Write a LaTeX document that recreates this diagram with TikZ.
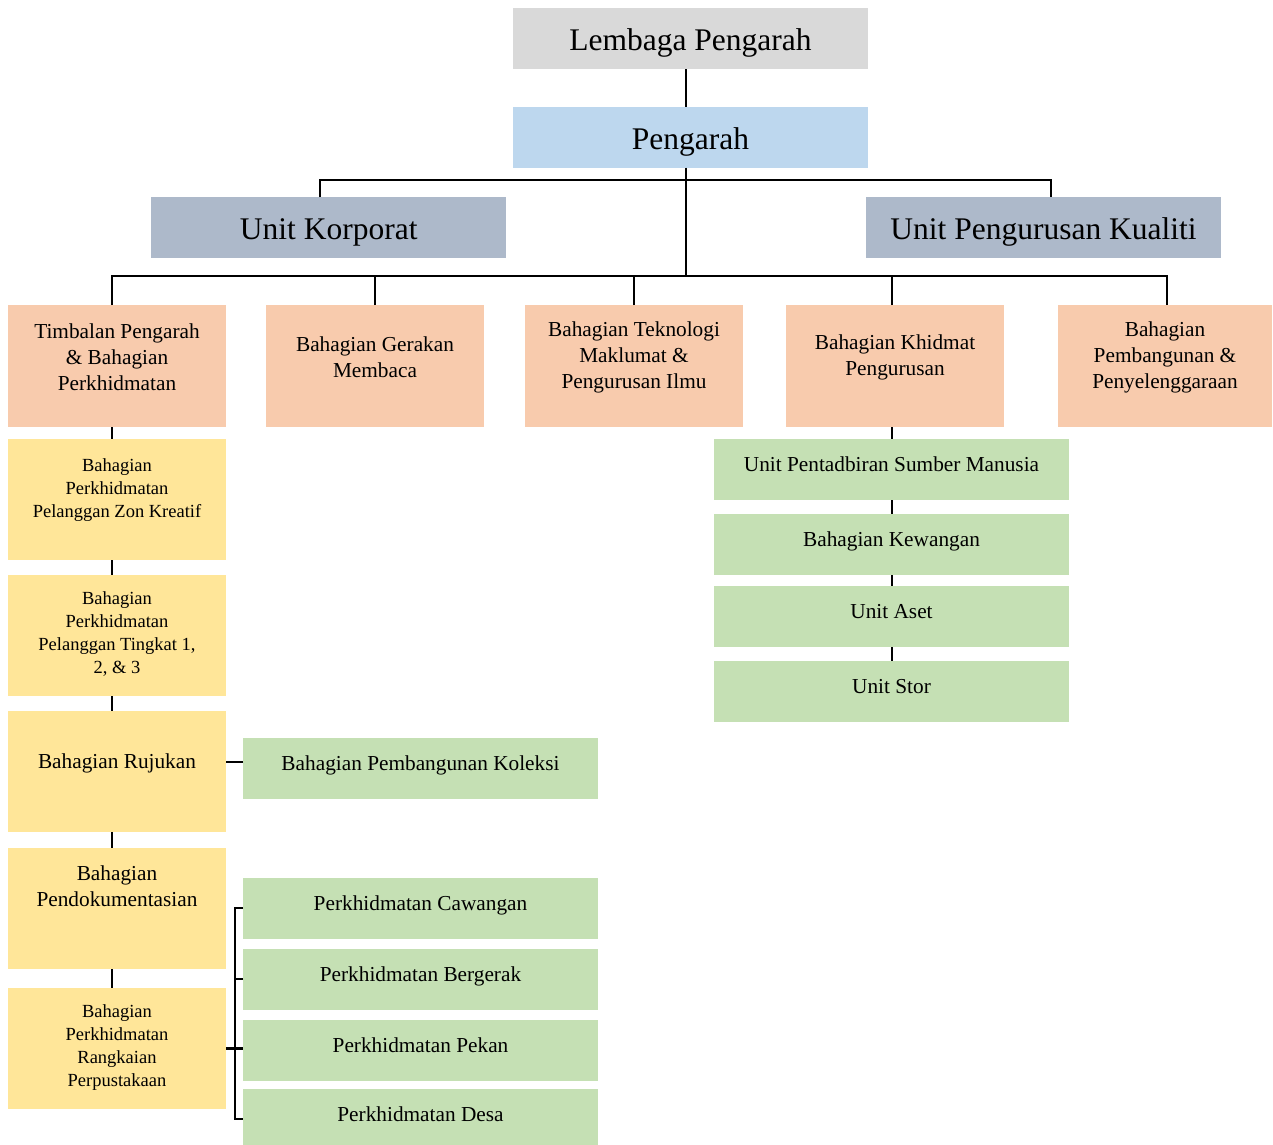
\documentclass[tikz,border=0pt]{standalone}
\usepackage{fontspec}
\setmainfont{Liberation Serif}
\usetikzlibrary{positioning}

\definecolor{boardgray}{HTML}{D9D9D9}
\definecolor{chiefblue}{HTML}{BDD7EE}
\definecolor{unitslate}{HTML}{ADB9CA}
\definecolor{deptpeach}{HTML}{F8CBAD}
\definecolor{sectyellow}{HTML}{FFE699}
\definecolor{unitgreen}{HTML}{C5E0B4}

\newcommand{\bigsz}{\fontsize{31.5}{38}\selectfont}
\newcommand{\midsz}{\fontsize{21.3}{26}\selectfont}
\newcommand{\smallsz}{\fontsize{18.5}{23}\selectfont}

\begin{document}
\begin{tikzpicture}[x=1pt,y=-1pt,line width=2pt,
lead/.style={inner sep=0pt,outer sep=0pt,minimum width=355pt,minimum height=61pt,font=\bigsz,text height=29pt,text depth=5pt},
dept/.style={fill=deptpeach,inner sep=0pt,outer sep=0pt,minimum width=218pt,minimum height=122pt},
sect/.style={fill=sectyellow,inner sep=0pt,outer sep=0pt,minimum width=218pt,minimum height=121pt},
unit/.style={fill=unitgreen,inner sep=0pt,outer sep=0pt,minimum width=355pt,minimum height=61pt,font=\midsz,text height=14pt,text depth=10pt},
lbl/.style={align=center,font=\midsz},
lbls/.style={align=center,font=\smallsz}]
\useasboundingbox (0,0) rectangle (1273,1144);

% top of the chart
\node[lead,fill=boardgray] (lembaga) at (690.5,38.7) {Lembaga Pengarah};
\node[lead,fill=chiefblue] (pengarah) at (690.5,137.2) {Pengarah};
\node[lead,fill=unitslate] (korporat) at (328.7,227.8) {Unit Korporat};
\node[lead,fill=unitslate] (kualiti) at (1043.5,227.8) {Unit Pengurusan Kualiti};

% divisions
\node[dept,label={[lbl,yshift=9pt]center:{Timbalan Pengarah\\\& Bahagian\\Perkhidmatan}}] (timbalan) at (117,366) {};
\node[dept,right=40pt of timbalan,label={[lbl,yshift=9pt]center:{Bahagian Gerakan\\Membaca}}] (gerakan) {};
\node[dept,right=41pt of gerakan,label={[lbl,yshift=9pt]center:{Bahagian Teknologi\\Maklumat \&\\Pengurusan Ilmu}}] (teknologi) {};
\node[dept,right=43pt of teknologi,label={[lbl,yshift=9pt]center:{Bahagian Khidmat\\Pengurusan}}] (khidmat) {};
\node[dept,right=54pt of khidmat,minimum width=214pt,label={[lbl,yshift=9pt]center:{Bahagian\\Pembangunan \&\\Penyelenggaraan}}] (pembangunan) {};

% sections under the deputy
\node[sect,below=12pt of timbalan,label={[lbls,yshift=9pt]center:{Bahagian\\Perkhidmatan\\Pelanggan Zon Kreatif}}] (zon) {};
\node[sect,below=15pt of zon,label={[lbls,yshift=2pt]center:{Bahagian\\Perkhidmatan\\Pelanggan Tingkat 1,\\2, \& 3}}] (tingkat) {};
\node[sect,below=15pt of tingkat,label={[lbl,yshift=8pt]center:{Bahagian Rujukan}}] (rujukan) {};
\node[sect,below=16pt of rujukan,label={[lbl,yshift=22pt]center:{Bahagian\\Pendokumentasian}}] (dokumentasi) {};
\node[sect,below=19pt of dokumentasi,label={[lbls,yshift=1pt]center:{Bahagian\\Perkhidmatan\\Rangkaian\\Perpustakaan}}] (rangkaian) {};

% units
\node[unit] (sdm) at (891.5,469.5) {Unit Pentadbiran Sumber Manusia};
\node[unit,below=14pt of sdm] (kewangan) {Bahagian Kewangan};
\node[unit,below=11pt of kewangan] (aset) {Unit Aset};
\node[unit,below=14pt of aset] (stor) {Unit Stor};
\node[unit] (koleksi) at (420.5,768.5) {Bahagian Pembangunan Koleksi};
\node[unit] (cawangan) at (420.5,908) {Perkhidmatan Cawangan};
\node[unit,below=10pt of cawangan] (bergerak) {Perkhidmatan Bergerak};
\node[unit,below=10pt of bergerak] (pekan) {Perkhidmatan Pekan};
\node[unit,below=8pt of pekan] (desa) {Perkhidmatan Desa};

% connectors
\coordinate (upbus) at (686,180);
\coordinate (lowbus) at (686,276);
\draw (lembaga.south -| upbus) -- (pengarah.north -| upbus);
\draw (pengarah.south -| upbus) -- (lowbus);
\draw ([xshift=-9pt]korporat.north) |- (upbus) -| ([xshift=7.5pt]kualiti.north);
\draw ([xshift=-5pt]timbalan.north) |- (lowbus) -| ([xshift=2pt]pembangunan.north);
\foreach \n in {gerakan,teknologi}
  \draw (\n.north) -- (\n.north |- lowbus);
\draw (sdm.north |- khidmat.north) -- (sdm.north |- lowbus);
\foreach \a/\b in {khidmat/sdm,sdm/kewangan,kewangan/aset,aset/stor}
  \draw (\b.north |- \a.south) -- (\b.north);
\foreach \a/\b in {timbalan/zon,zon/tingkat,tingkat/rujukan,rujukan/dokumentasi,dokumentasi/rangkaian}
  \draw ([xshift=-5pt]\a.south) -- ([xshift=-5pt]\b.north);
\draw ([yshift=7pt]koleksi.west) -- ([yshift=7pt]koleksi.west -| rujukan.east);
\draw[line width=2.5pt] (cawangan.west) -- ++(-8,0) |- (desa.west);
\draw[line width=2.5pt] (bergerak.west) -- ++(-8,0);
\draw[line width=2.5pt] (rangkaian.east) -- (rangkaian.east -| pekan.west);
\end{tikzpicture}
\end{document}
